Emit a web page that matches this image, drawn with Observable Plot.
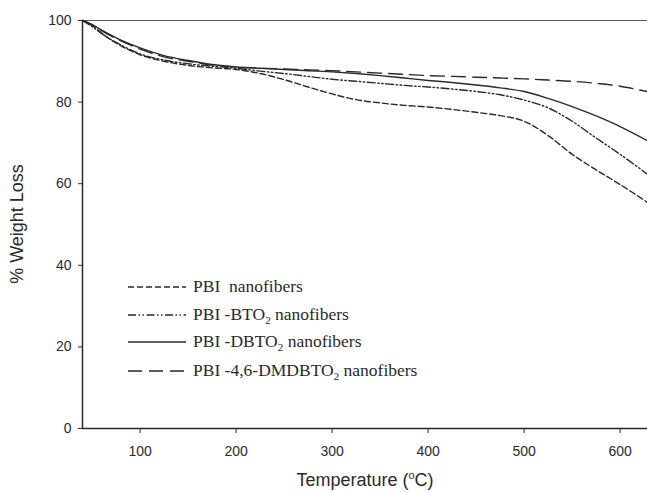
<!DOCTYPE html>
<html>
<head>
<meta charset="utf-8">
<script src="https://cdn.jsdelivr.net/npm/d3@7"></script>
<script src="https://cdn.jsdelivr.net/npm/@observablehq/plot@0.6"></script>
<style>
  html, body { margin: 0; padding: 0; background: #fff; }
  #chart { position: relative; width: 647px; height: 492px; }
</style>
</head>
<body>
<div id="chart"></div>
<script>
// Temperatures (°C)
const temps = [40, 50, 65, 80, 100, 125, 150, 175, 200, 225, 250, 275, 300, 325, 350, 375, 400, 425, 450, 475, 500, 525, 550, 575, 600, 628];

// % weight for each sample
const pbi      = [100, 98.8, 96.0, 93.8, 91.6, 90.0, 89.0, 88.4, 88.0, 87.0, 85.5, 83.7, 82.0, 80.6, 79.8, 79.2, 78.8, 78.2, 77.5, 76.7, 75.3, 71.8, 67.2, 63.4, 59.8, 55.5];
const bto2     = [100, 98.5, 96.0, 94.0, 91.8, 90.3, 89.4, 88.8, 88.3, 87.6, 87.0, 86.3, 85.6, 85.1, 84.6, 84.1, 83.7, 83.2, 82.6, 81.8, 80.5, 78.6, 75.3, 71.2, 67.2, 62.4];
const dbto2    = [100, 99.0, 97.0, 95.2, 93.3, 91.4, 90.2, 89.2, 88.6, 88.3, 88.0, 87.7, 87.4, 87.0, 86.5, 85.9, 85.3, 84.8, 84.2, 83.5, 82.6, 80.9, 78.9, 76.6, 74.0, 70.6];
const dmdbto2  = [100, 98.9, 96.8, 95.0, 93.0, 91.1, 90.0, 89.1, 88.6, 88.3, 88.1, 87.9, 87.7, 87.4, 87.1, 86.8, 86.5, 86.3, 86.1, 85.9, 85.7, 85.4, 85.1, 84.6, 83.9, 82.6];

const seriesNames = ["PBI  nanofibers", "PBI -BTO2 nanofibers", "PBI -DBTO2 nanofibers", "PBI -4,6-DMDBTO2 nanofibers"];
const seriesValues = [pbi, bto2, dbto2, dmdbto2];

const xTicks = [100, 200, 300, 400, 500, 600];
const yTicks = [0, 20, 40, 60, 80, 100];

const dashes = ["6,3", "8,2.5,1.5,2.5,1.5,2.5", null, "14,7"];
const ink = "#2a2a2a";

const rows = [];
seriesValues.forEach((vals, i) => vals.forEach((v, j) => rows.push({s: i, t: temps[j], w: v})));

const marks = [
  Plot.ruleY([100], {stroke: "#555", strokeWidth: 1.2}),
  Plot.axisX({ticks: xTicks, tickSize: 5, tickPadding: 13, fontSize: 14, label: null, stroke: ink, fill: ink}),
  Plot.axisY({ticks: yTicks, tickSize: 4, tickPadding: 7, fontSize: 14, label: null, stroke: ink, fill: ink}),
  Plot.ruleX([40], {stroke: ink, strokeWidth: 1.5}),
  Plot.ruleY([0], {stroke: ink, strokeWidth: 1.5})
];
seriesValues.forEach((vals, i) => {
  const opts = {x: "t", y: "w", stroke: ink, strokeWidth: 1.4, curve: "catmull-rom"};
  if (dashes[i]) opts.strokeDasharray = dashes[i];
  marks.push(Plot.line(rows.filter(d => d.s === i), opts));
});

const chart = Plot.plot({
  width: 647,
  height: 492,
  marginLeft: 82,
  marginRight: 0,
  marginTop: 20,
  marginBottom: 64,
  style: {fontFamily: "'Liberation Sans', Arial, sans-serif", background: "#fff", color: ink},
  x: {domain: [40, 628.5]},
  y: {domain: [0, 100]},
  marks
});
document.getElementById("chart").appendChild(chart);

// axis titles and legend drawn onto the same SVG
const svg = d3.select(chart);
svg.append("text")
  .attr("x", 365).attr("y", 486)
  .attr("text-anchor", "middle")
  .attr("font-family", "'Liberation Sans', Arial, sans-serif")
  .attr("font-size", 18).attr("fill", ink)
  .html('Temperature (<tspan font-size="11" dy="-7">o</tspan><tspan dy="7">C)</tspan>');
svg.append("text")
  .attr("transform", "translate(23,224) rotate(-90)")
  .attr("text-anchor", "middle")
  .attr("font-family", "'Liberation Sans', Arial, sans-serif")
  .attr("font-size", 18).attr("fill", ink)
  .text("% Weight Loss");

const legendY = [287, 315, 342, 371];
const lg = svg.append("g")
  .attr("font-family", "'Liberation Serif', 'Times New Roman', serif")
  .attr("font-size", 17.5).attr("fill", ink).attr("text-anchor", "start");
seriesNames.forEach((name, i) => {
  const y = legendY[i];
  const ln = lg.append("line").attr("x1", 128).attr("x2", 186).attr("y1", y).attr("y2", y)
    .attr("stroke", ink).attr("stroke-width", 1.4);
  if (dashes[i]) ln.attr("stroke-dasharray", dashes[i]);
  const t = lg.append("text").attr("x", 193).attr("y", y + 5).attr("xml:space", "preserve");
  const m = name.match(/^(.*O)2( .*)$/);
  if (m) {
    t.append("tspan").text(m[1]);
    t.append("tspan").attr("font-size", 11).attr("dy", 4).text("2");
    t.append("tspan").attr("dy", -4).text(m[2]);
  } else {
    t.text(name);
  }
});
</script>
</body>
</html>
